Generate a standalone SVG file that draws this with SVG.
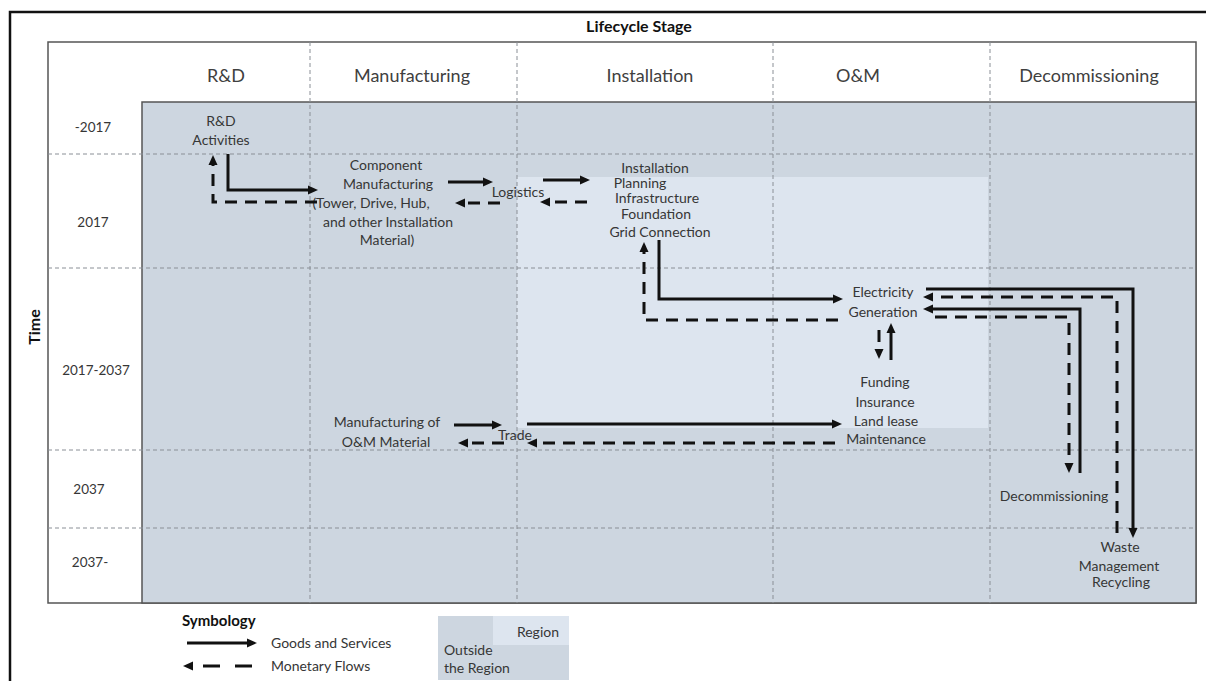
<svg xmlns="http://www.w3.org/2000/svg" width="1206" height="681" viewBox="0 0 1206 681">
<defs>
<style>
.t{font-family:Lato,"Open Sans","Liberation Sans",sans-serif;fill:#363636;font-size:14px;text-anchor:middle}
.h{font-size:18px;fill:#404040}
.r{font-size:13.5px}
.b{font-weight:bold;fill:#111}
.grid{stroke:#8a8f96;stroke-width:1;stroke-dasharray:4 3;fill:none}
.sol{stroke:#111;stroke-width:3;fill:none;marker-end:url(#ah)}
.dsh{stroke:#111;stroke-width:3;fill:none;stroke-dasharray:12 8;marker-end:url(#ah)}
</style>
<marker id="ah" markerWidth="10" markerHeight="9" refX="0" refY="4.5" orient="auto" markerUnits="userSpaceOnUse" overflow="visible">
<path d="M0,0 L10,4.5 L0,9 z" fill="#111"/>
</marker>
</defs>
<rect x="0" y="0" width="1206" height="681" fill="#fff"/>
<rect x="10" y="12" width="1210" height="680" fill="none" stroke="#111" stroke-width="2.5"/>
<g id="table">
<rect x="48" y="42" width="1148" height="561" fill="#fff" stroke="#555" stroke-width="1.5"/>
<rect x="142" y="102" width="1054" height="501" fill="#cdd6e0" stroke="#555" stroke-width="1.5"/>
<rect x="517" y="177" width="471" height="251" fill="#dde5ef"/>
<path class="grid" d="M48,154H1196M48,268H1196M48,450H1196M48,528H1196M310,42V603M517,42V603M773,42V603M990,42V603"/>
</g>
<g id="titles">
<text class="t b" x="639" y="32" style="font-size:16px">Lifecycle Stage</text>
<text class="t b" x="0" y="0" style="font-size:16px" transform="translate(40,327) rotate(-90)">Time</text>
<text class="t h" x="226" y="82">R&amp;D</text>
<text class="t h" x="412" y="82">Manufacturing</text>
<text class="t h" x="650" y="82">Installation</text>
<text class="t h" x="858" y="82">O&amp;M</text>
<text class="t h" x="1089" y="82">Decommissioning</text>
<text class="t r" x="93" y="132">-2017</text>
<text class="t r" x="93" y="227">2017</text>
<text class="t r" x="96" y="375">2017-2037</text>
<text class="t r" x="89" y="494">2037</text>
<text class="t r" x="90" y="567">2037-</text>
</g>
<g id="node-rd"><text class="t" x="221" y="126">R&amp;D</text><text class="t" x="221" y="145">Activities</text></g>
<g id="node-component">
<text class="t" x="386" y="170">Component</text>
<text class="t" x="388" y="189">Manufacturing</text>
<text class="t" x="371" y="208">(Tower, Drive, Hub,</text>
<text class="t" x="388" y="227">and other Installation</text>
<text class="t" x="387" y="245">Material)</text>
</g>
<g id="node-logistics"><text class="t" x="518" y="197">Logistics</text></g>
<g id="node-installation">
<text class="t" x="655" y="173">Installation</text>
<text class="t" x="640" y="188">Planning</text>
<text class="t" x="657" y="203">Infrastructure</text>
<text class="t" x="656" y="219">Foundation</text>
<text class="t" x="660" y="237">Grid Connection</text>
</g>
<g id="node-electricity"><text class="t" x="883" y="297">Electricity</text><text class="t" x="883" y="317">Generation</text></g>
<g id="node-funding">
<text class="t" x="885" y="387">Funding</text>
<text class="t" x="885" y="407">Insurance</text>
<text class="t" x="886" y="426">Land lease</text>
<text class="t" x="886" y="444">Maintenance</text>
</g>
<g id="node-om-material"><text class="t" x="387" y="427">Manufacturing of</text><text class="t" x="386" y="447">O&amp;M Material</text></g>
<g id="node-trade"><text class="t" x="515" y="440">Trade</text></g>
<g id="node-decommissioning"><text class="t" x="1054" y="501">Decommissioning</text></g>
<g id="node-waste">
<text class="t" x="1120" y="552">Waste</text>
<text class="t" x="1119" y="571">Management</text>
<text class="t" x="1121" y="587">Recycling</text>
</g>
<g id="connectors">
<path class="sol" d="M228,154V190H308"/>
<path class="dsh" d="M317,202H213V165"/>
<path class="sol" d="M448,182H483"/>
<path class="dsh" d="M500,203H465"/>
<path class="sol" d="M543,180H580"/>
<path class="dsh" d="M587,202H550"/>
<path class="sol" d="M659,240V299H833"/>
<path class="dsh" d="M838,320H644V252"/>
<path class="dsh" d="M879,330V349"/>
<path class="sol" d="M891,360V333"/>
<path class="sol" d="M527,424H832"/>
<path class="dsh" d="M835,443H537"/>
<path class="sol" d="M454,425H492"/>
<path class="dsh" d="M504,443H468"/>
<path class="sol" d="M926,289H1133V528"/>
<path class="dsh" d="M1117,533V297H933"/>
<path class="sol" d="M1080,473V309H933"/>
<path class="dsh" d="M935,317H1069V463"/>
</g>
<g id="legend">
<text class="t b" x="182" y="626" style="font-size:15px;text-anchor:start">Symbology</text>
<path class="sol" d="M187,643H247"/>
<path class="dsh" d="M252,666H193" style="stroke-dasharray:17 15"/>
<text class="t" x="271" y="648" style="text-anchor:start">Goods and Services</text>
<text class="t" x="271" y="671" style="text-anchor:start">Monetary Flows</text>
<rect x="438" y="616" width="131" height="64" fill="#cdd6e0"/>
<rect x="493" y="616" width="76" height="29" fill="#dde5ef"/>
<text class="t" x="559" y="637" style="text-anchor:end">Region</text>
<text class="t" x="444" y="655" style="text-anchor:start">Outside</text>
<text class="t" x="444" y="673" style="text-anchor:start">the Region</text>
</g>
</svg>
